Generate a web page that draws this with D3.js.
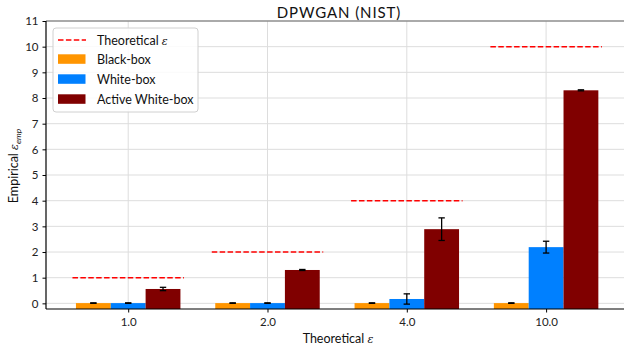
<!DOCTYPE html>
<html>
<head>
<meta charset="utf-8">
<script src="https://cdn.jsdelivr.net/npm/d3@7"></script>
<style>
  body { margin: 0; background: #fff; }
  svg { display: block; font-family: Lato, "Open Sans", sans-serif; }
</style>
</head>
<body>
<svg id="chart" width="624" height="349"></svg>
<script>
// Groups: theoretical privacy budget
const categories = ["1.0", "2.0", "4.0", "10.0"];
const theoretical = [1, 2, 4, 10];

// Empirical epsilon per attack, with standard-deviation error bars
const seriesNames = ["Black-box", "White-box", "Active White-box"];
const blackBox = [0.01, 0.01, 0.01, 0.01];
const blackBoxErr = [0.01, 0.01, 0.01, 0.01];
const whiteBox = [0.01, 0.01, 0.17, 2.19];
const whiteBoxErr = [0.01, 0.01, 0.2, 0.23];
const activeWhiteBox = [0.56, 1.30, 2.89, 8.30];
const activeWhiteBoxErr = [0.065, 0.02, 0.44, 0.02];

const yTicks = [0, 1, 2, 3, 4, 5, 6, 7, 8, 9, 10, 11];

const colors = ["#FF9500", "#0080FF", "#800000"];
const series = [
  { name: seriesNames[0], values: blackBox, errs: blackBoxErr },
  { name: seriesNames[1], values: whiteBox, errs: whiteBoxErr },
  { name: seriesNames[2], values: activeWhiteBox, errs: activeWhiteBoxErr }
];

const svg = d3.select("#chart");
const plotLeft = 46, plotTop = 21, plotBottom = 309;
const barW = 0.25;

const x = d3.scaleLinear().domain([-0.59, 3.59]).range([plotLeft, 628.3]);
const y = d3.scaleLinear().domain([-0.22, 11]).range([plotBottom, plotTop]);

// Grid
const grid = svg.append("g");
grid.selectAll("line.h").data(yTicks).join("line")
  .attr("x1", plotLeft).attr("x2", 624)
  .attr("y1", d => y(d)).attr("y2", d => y(d))
  .attr("stroke", "#dddddd").attr("stroke-width", 1);
grid.selectAll("line.v").data(categories).join("line")
  .attr("x1", (d, i) => x(i)).attr("x2", (d, i) => x(i))
  .attr("y1", plotTop).attr("y2", plotBottom)
  .attr("stroke", "#dddddd").attr("stroke-width", 1);

// Bars
series.forEach((s, si) => {
  const off = (si - 1) * barW;
  svg.append("g").selectAll("rect").data(s.values).join("rect")
    .attr("x", (d, i) => x(i + off - barW / 2))
    .attr("width", x(barW) - x(0))
    .attr("y", d => y(d))
    .attr("height", d => y(-0.22) - y(d))
    .attr("fill", colors[si]);
});

// Error bars
series.forEach((s, si) => {
  const off = (si - 1) * barW;
  const g = svg.append("g").attr("stroke", "#000").attr("stroke-width", 1.3);
  s.values.forEach((v, i) => {
    const cx = x(i + off);
    const hi = y(v + s.errs[i]), lo = y(v - s.errs[i]);
    g.append("line").attr("x1", cx).attr("x2", cx).attr("y1", hi).attr("y2", lo);
    g.append("line").attr("x1", cx - 3.2).attr("x2", cx + 3.2).attr("y1", hi).attr("y2", hi);
    g.append("line").attr("x1", cx - 3.2).attr("x2", cx + 3.2).attr("y1", lo).attr("y2", lo);
  });
});

// Theoretical epsilon reference lines
svg.append("g").selectAll("line").data(theoretical).join("line")
  .attr("x1", (d, i) => x(i - 0.4)).attr("x2", (d, i) => x(i + 0.4))
  .attr("y1", d => y(d)).attr("y2", d => y(d))
  .attr("stroke", "#FF0000").attr("stroke-width", 1.5)
  .attr("stroke-dasharray", "5.5,2.4");

// Spines
svg.append("line").attr("x1", plotLeft).attr("x2", 624).attr("y1", plotTop).attr("y2", plotTop)
  .attr("stroke", "#666").attr("stroke-width", 1.2);
svg.append("line").attr("x1", plotLeft).attr("x2", plotLeft).attr("y1", plotTop).attr("y2", plotBottom)
  .attr("stroke", "#000").attr("stroke-width", 1.2);
svg.append("line").attr("x1", plotLeft).attr("x2", 624).attr("y1", plotBottom).attr("y2", plotBottom)
  .attr("stroke", "#000").attr("stroke-width", 1.2);

// Axes
const yAxis = d3.axisLeft(y).tickValues(yTicks).tickSize(3.5).tickPadding(4).tickFormat(d3.format("d"));
const gy = svg.append("g").attr("transform", `translate(${plotLeft},0)`).call(yAxis);
const xAxis = d3.axisBottom(x).tickValues([0, 1, 2, 3]).tickSize(3.5).tickPadding(5)
  .tickFormat(i => categories[i]);
const gx = svg.append("g").attr("transform", `translate(0,${plotBottom})`).call(xAxis);
[gy, gx].forEach(g => {
  g.select(".domain").remove();
  g.selectAll(".tick line").attr("stroke", "#000");
  g.selectAll(".tick text").attr("fill", "#222").attr("font-size", 11.5)
    .attr("font-family", "Lato, 'Open Sans', sans-serif");
});

// Title and axis labels
svg.append("text").attr("x", 339).attr("y", 18).attr("text-anchor", "middle")
  .attr("font-size", 15).attr("letter-spacing", 0.9).attr("fill", "#111").text("DPWGAN (NIST)");

const xl = svg.append("text").attr("x", 338).attr("y", 343).attr("text-anchor", "middle")
  .attr("font-size", 12.5).attr("fill", "#111");
xl.append("tspan").text("Theoretical ");
xl.append("tspan").attr("font-style", "italic").attr("font-family", "'DejaVu Serif', serif").attr("font-size", 11).text("ε");

const yl = svg.append("text").attr("transform", "translate(18,166) rotate(-90)")
  .attr("text-anchor", "middle").attr("font-size", 12.5).attr("fill", "#111");
yl.append("tspan").text("Empirical ");
yl.append("tspan").attr("font-style", "italic").attr("font-family", "'DejaVu Serif', serif").attr("font-size", 11).text("ε");
yl.append("tspan").attr("font-style", "italic").attr("font-size", 8.5).attr("dy", 3).text("emp");

// Legend
const lg = svg.append("g").attr("transform", "translate(53,28)");
lg.append("rect").attr("width", 145).attr("height", 84).attr("rx", 3)
  .attr("fill", "#fff").attr("fill-opacity", 0.85).attr("stroke", "#d0d0d0");
lg.append("line").attr("x1", 5).attr("x2", 33).attr("y1", 12).attr("y2", 12)
  .attr("stroke", "#FF0000").attr("stroke-width", 1.5).attr("stroke-dasharray", "5.5,2.4");
const lt = lg.append("text").attr("x", 44).attr("y", 16.5).attr("font-size", 12.5).attr("fill", "#111");
lt.append("tspan").text("Theoretical ");
lt.append("tspan").attr("font-style", "italic").attr("font-family", "'DejaVu Serif', serif").attr("font-size", 11).text("ε");
seriesNames.forEach((n, i) => {
  const yy = 31 + i * 20;
  lg.append("rect").attr("x", 5).attr("y", yy - 4.7).attr("width", 27.5).attr("height", 9.5)
    .attr("fill", colors[i]);
  lg.append("text").attr("x", 44).attr("y", yy + 5).attr("font-size", 12.5).attr("fill", "#111").text(n);
});
</script>
</body>
</html>
